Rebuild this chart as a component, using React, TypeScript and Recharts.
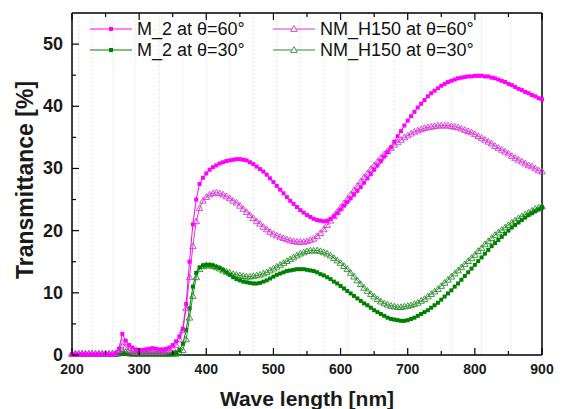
import { LineChart, Line, XAxis, YAxis, CartesianGrid } from 'recharts';

// wavelength grid [nm]
const WAVE = [
  200, 205, 210, 215, 220, 225, 230, 235, 240, 245,
  250, 255, 260, 265, 270, 275, 280, 285, 290, 295,
  300, 305, 310, 315, 320, 325, 330, 335, 340, 345,
  350, 355, 360, 365, 370, 375, 380, 385, 390, 395,
  400, 405, 410, 415, 420, 425, 430, 435, 440, 445,
  450, 455, 460, 465, 470, 475, 480, 485, 490, 495,
  500, 505, 510, 515, 520, 525, 530, 535, 540, 545,
  550, 555, 560, 565, 570, 575, 580, 585, 590, 595,
  600, 605, 610, 615, 620, 625, 630, 635, 640, 645,
  650, 655, 660, 665, 670, 675, 680, 685, 690, 695,
  700, 705, 710, 715, 720, 725, 730, 735, 740, 745,
  750, 755, 760, 765, 770, 775, 780, 785, 790, 795,
  800, 805, 810, 815, 820, 825, 830, 835, 840, 845,
  850, 855, 860, 865, 870, 875, 880, 885, 890, 895,
  900,
];

// M_2 at 60 deg
const M2_60 = [
  0.1, 0.1, 0.1, 0.1, 0.1, 0.1, 0.1, 0.1, 0.1, 0.1,
  0.1, 0.1, 0.1, 0.3, 1.0, 3.4, 2.3, 1.6, 1.2, 0.9,
  0.8, 0.8, 0.9, 1.0, 1.1, 1.0, 0.9, 0.9, 1.0, 1.2,
  1.6, 2.2, 3.0, 4.2, 8.2, 15.0, 21.0, 25.0, 27.5, 28.5,
  29.2, 29.8, 30.2, 30.5, 30.8, 31.0, 31.2, 31.3, 31.4, 31.5,
  31.5, 31.4, 31.3, 31.0, 30.7, 30.3, 29.9, 29.5, 29.0, 28.4,
  27.8, 27.2, 26.6, 26.0, 25.4, 24.8, 24.3, 23.8, 23.3, 22.9,
  22.5, 22.2, 21.9, 21.7, 21.6, 21.5, 21.6, 21.9, 22.3, 22.8,
  23.4, 24.0, 24.6, 25.2, 25.8, 26.4, 27.0, 27.7, 28.4, 29.1,
  29.8, 30.5, 31.2, 31.9, 32.6, 33.4, 34.3, 35.2, 36.0, 36.9,
  37.7, 38.4, 39.1, 39.8, 40.4, 41.0, 41.6, 42.1, 42.5, 42.9,
  43.3, 43.6, 43.9, 44.1, 44.3, 44.5, 44.6, 44.7, 44.8, 44.8,
  44.9, 44.9, 44.9, 44.8, 44.8, 44.6, 44.5, 44.3, 44.1, 43.9,
  43.6, 43.4, 43.1, 42.8, 42.6, 42.3, 42.1, 41.8, 41.6, 41.3,
  41.1,
];

// NM_H150 at 60 deg
const NM_60 = [
  0.2, 0.2, 0.2, 0.2, 0.2, 0.2, 0.2, 0.2, 0.2, 0.2,
  0.2, 0.2, 0.2, 0.3, 0.8, 2.0, 1.3, 0.8, 0.6, 0.5,
  0.5, 0.5, 0.5, 0.5, 0.5, 0.5, 0.5, 0.5, 0.6, 0.8,
  1.1, 1.6, 2.5, 4.0, 7.5, 12.5, 17.5, 21.5, 23.6, 24.8,
  25.4, 25.8, 26.0, 26.1, 26.0, 25.8, 25.5, 25.2, 24.8, 24.5,
  24.0, 23.5, 23.0, 22.5, 22.0, 21.5, 21.1, 20.6, 20.2, 19.8,
  19.5, 19.2, 19.0, 18.8, 18.6, 18.4, 18.3, 18.2, 18.2, 18.2,
  18.3, 18.5, 18.7, 19.1, 19.6, 20.2, 20.9, 21.6, 22.3, 23.0,
  23.7, 24.4, 25.1, 25.8, 26.5, 27.2, 27.9, 28.6, 29.2, 29.9,
  30.5, 31.1, 31.7, 32.3, 32.8, 33.3, 33.8, 34.2, 34.6, 35.0,
  35.3, 35.6, 35.9, 36.1, 36.3, 36.5, 36.6, 36.7, 36.8, 36.9,
  36.9, 36.9, 36.9, 36.8, 36.7, 36.6, 36.4, 36.2, 36.0, 35.8,
  35.5, 35.2, 34.9, 34.6, 34.3, 34.0, 33.6, 33.3, 33.0, 32.7,
  32.4, 32.0, 31.7, 31.4, 31.1, 30.8, 30.5, 30.3, 30.0, 29.7,
  29.5,
];

// M_2 at 30 deg
const M2_30 = [
  0.0, 0.0, 0.0, 0.0, 0.0, 0.0, 0.0, 0.0, 0.0, 0.0,
  0.0, 0.0, 0.0, 0.0, 0.1, 0.3, 0.2, 0.1, 0.1, 0.1,
  0.1, 0.1, 0.1, 0.1, 0.1, 0.1, 0.1, 0.1, 0.1, 0.1,
  0.2, 0.4, 0.8, 1.8, 4.0, 7.5, 11.0, 13.2, 14.1, 14.4,
  14.5, 14.5, 14.4, 14.2, 14.0, 13.7, 13.3, 12.9, 12.5, 12.2,
  12.0, 11.8, 11.7, 11.6, 11.5, 11.5, 11.6, 11.8, 12.0, 12.3,
  12.6, 12.9, 13.1, 13.3, 13.5, 13.6, 13.7, 13.8, 13.8, 13.8,
  13.7, 13.6, 13.5, 13.3, 13.0, 12.8, 12.5, 12.2, 11.8, 11.5,
  11.1, 10.7, 10.3, 9.9, 9.5, 9.1, 8.7, 8.3, 8.0, 7.6,
  7.2, 6.9, 6.6, 6.3, 6.0, 5.8, 5.7, 5.6, 5.5, 5.5,
  5.6, 5.8, 6.0, 6.3, 6.6, 6.9, 7.2, 7.6, 8.0, 8.4,
  8.9, 9.4, 9.9, 10.4, 11.0, 11.5, 12.1, 12.7, 13.3, 13.9,
  14.5, 15.1, 15.7, 16.3, 16.9, 17.5, 18.0, 18.5, 19.0, 19.5,
  20.0, 20.5, 20.9, 21.3, 21.7, 22.1, 22.5, 22.8, 23.1, 23.4,
  23.7,
];

// NM_H150 at 30 deg
const NM_30 = [
  0.2, 0.2, 0.2, 0.2, 0.2, 0.2, 0.2, 0.2, 0.2, 0.2,
  0.2, 0.2, 0.2, 0.2, 0.3, 0.8, 0.5, 0.3, 0.2, 0.2,
  0.2, 0.2, 0.2, 0.2, 0.2, 0.2, 0.2, 0.2, 0.2, 0.2,
  0.2, 0.2, 0.3, 0.8, 2.5, 6.0, 9.5, 12.5, 13.8, 14.3,
  14.4, 14.4, 14.3, 14.1, 13.9, 13.6, 13.4, 13.2, 13.0, 12.9,
  12.8, 12.7, 12.6, 12.6, 12.7, 12.8, 12.9, 13.1, 13.3, 13.6,
  13.9, 14.2, 14.5, 14.8, 15.1, 15.4, 15.7, 16.0, 16.3, 16.5,
  16.7, 16.8, 16.8, 16.8, 16.7, 16.5, 16.3, 16.0, 15.6, 15.2,
  14.8, 14.3, 13.8, 13.2, 12.6, 12.0, 11.4, 10.8, 10.3, 9.8,
  9.4, 9.0, 8.6, 8.3, 8.1, 7.9, 7.8, 7.7, 7.7, 7.8,
  7.9, 8.0, 8.2, 8.4, 8.7, 9.0, 9.4, 9.8, 10.2, 10.6,
  11.1, 11.6, 12.1, 12.6, 13.1, 13.6, 14.1, 14.6, 15.1, 15.6,
  16.1, 16.7, 17.2, 17.8, 18.3, 18.8, 19.3, 19.7, 20.1, 20.5,
  20.9, 21.3, 21.6, 22.0, 22.3, 22.6, 22.9, 23.2, 23.5, 23.7,
  23.9,
];

const X_TICKS = [200, 250, 300, 350, 400, 450, 500, 550, 600, 650, 700, 750, 800, 850, 900];
const Y_TICKS = [0, 5, 10, 15, 20, 25, 30, 35, 40, 45, 50, 55];

const data = WAVE.map((wl, i) => ({
  wl,
  m60: M2_60[i],
  n60: NM_60[i],
  m30: M2_30[i],
  n30: NM_30[i],
}));

const FONT = '"Liberation Sans", Arial, sans-serif';
const MAGENTA = '#ff00ff';
const MAGENTA_OPEN = '#d936d9';
const GREEN = '#008000';
const GREEN_OPEN = '#2f8f2f';

const square = (color: string) => (p: any) => {
  if (p.cx == null || p.cy == null) return <g key={p.index} />;
  return <rect key={p.index} x={p.cx - 2} y={p.cy - 2} width={4} height={4} fill={color} />;
};

const triangle = (color: string) => (p: any) => {
  if (p.cx == null || p.cy == null) return <g key={p.index} />;
  const { cx, cy } = p;
  return (
    <path
      key={p.index}
      d={`M${cx},${cy - 3.3} L${cx + 3.3},${cy + 2.4} L${cx - 3.3},${cy + 2.4} Z`}
      fill="none"
      stroke={color}
      strokeWidth={0.9}
    />
  );
};

const BottomTick = ({ x, y, payload }: any) => {
  const major = payload.value % 100 === 0;
  return (
    <g>
      <line x1={x} x2={x} y1={y} y2={y - (major ? 7 : 4)} stroke="#000" strokeWidth={1.2} />
      {major && (
        <text x={x} y={y + 19} textAnchor="middle" fontSize={14} fontWeight="bold" fill="#1a1a1a" fontFamily={FONT}>
          {payload.value}
        </text>
      )}
    </g>
  );
};

const TopTick = ({ x, y, payload }: any) => {
  const major = payload.value % 100 === 0;
  return <line x1={x} x2={x} y1={y} y2={y + (major ? 7 : 4)} stroke="#000" strokeWidth={1.2} />;
};

const LeftTick = ({ x, y, payload }: any) => {
  const major = payload.value % 10 === 0;
  if (payload.value > 50) return <g />;
  return (
    <g>
      <line x1={x} x2={x + (major ? 7 : 4)} y1={y} y2={y} stroke="#000" strokeWidth={1.2} />
      {major && (
        <text x={x - 9} y={y + 6} textAnchor="end" fontSize={18} fontWeight="bold" fill="#1a1a1a" fontFamily={FONT}>
          {payload.value}
        </text>
      )}
    </g>
  );
};

const RightTick = ({ x, y, payload }: any) => {
  const major = payload.value % 10 === 0;
  if (payload.value > 50) return <g />;
  return <line x1={x} x2={x - (major ? 7 : 4)} y1={y} y2={y} stroke="#000" strokeWidth={1.2} />;
};

const legendItems = [
  { label: 'M_2 at θ=60°', color: MAGENTA, kind: 'square', left: 90, top: 20 },
  { label: 'NM_H150 at θ=60°', color: MAGENTA_OPEN, kind: 'triangle', left: 273, top: 20 },
  { label: 'M_2 at θ=30°', color: GREEN, kind: 'square', left: 90, top: 41 },
  { label: 'NM_H150 at θ=30°', color: GREEN_OPEN, kind: 'triangle', left: 273, top: 41 },
];

function LegendBox() {
  return (
    <>
      {legendItems.map((it) => (
        <div
          key={it.label}
          style={{ position: 'absolute', left: it.left, top: it.top, display: 'flex', alignItems: 'center', height: 18 }}
        >
          <svg width={44} height={12} style={{ display: 'block' }}>
            <line x1={0} x2={42} y1={6} y2={6} stroke={it.color} strokeWidth={1} />
            {it.kind === 'square' ? (
              <rect x={19} y={4} width={4} height={4} fill={it.color} />
            ) : (
              <path d="M21,2.7 L24.3,8.4 L17.7,8.4 Z" fill="#fff" stroke={it.color} strokeWidth={0.9} />
            )}
          </svg>
          <span style={{ fontFamily: FONT, fontSize: 18, color: '#111', marginLeft: 3, whiteSpace: 'nowrap' }}>
            {it.label}
          </span>
        </div>
      ))}
    </>
  );
}

export default function App() {
  return (
    <div style={{ position: 'absolute', left: 0, top: 0, width: 562, height: 409, background: '#fff' }}>
      <LineChart width={562} height={409} data={data} margin={{ top: 12, right: 19, bottom: 0, left: 0 }}>
        <CartesianGrid stroke="#cfcfcf" strokeDasharray="1 3" />
        <XAxis
          xAxisId="b"
          dataKey="wl"
          type="number"
          domain={[200, 900]}
          ticks={X_TICKS}
          interval={0}
          height={54}
          tickSize={0}
          tickMargin={0}
          tick={<BottomTick />}
          axisLine={{ stroke: '#000', strokeWidth: 1.5 }}
        />
        <XAxis
          xAxisId="t"
          orientation="top"
          dataKey="wl"
          type="number"
          domain={[200, 900]}
          ticks={X_TICKS}
          interval={0}
          height={1}
          tickSize={0}
          tickMargin={0}
          tick={<TopTick />}
          axisLine={{ stroke: '#000', strokeWidth: 1.5 }}
        />
        <YAxis
          yAxisId="l"
          type="number"
          domain={[0, 55]}
          ticks={Y_TICKS}
          interval={0}
          width={72}
          tickSize={0}
          tickMargin={0}
          tick={<LeftTick />}
          axisLine={{ stroke: '#000', strokeWidth: 1.5 }}
        />
        <YAxis
          yAxisId="r"
          orientation="right"
          type="number"
          domain={[0, 55]}
          ticks={Y_TICKS}
          interval={0}
          width={1}
          tickSize={0}
          tickMargin={0}
          tick={<RightTick />}
          axisLine={{ stroke: '#000', strokeWidth: 1.5 }}
        />
        <Line xAxisId="b" yAxisId="l" dataKey="n30" stroke={GREEN_OPEN} strokeWidth={1} dot={triangle(GREEN_OPEN)} isAnimationActive={false} />
        <Line xAxisId="b" yAxisId="l" dataKey="m30" stroke={GREEN} strokeWidth={1} dot={square(GREEN)} isAnimationActive={false} />
        <Line xAxisId="b" yAxisId="l" dataKey="n60" stroke={MAGENTA_OPEN} strokeWidth={1} dot={triangle(MAGENTA_OPEN)} isAnimationActive={false} />
        <Line xAxisId="b" yAxisId="l" dataKey="m60" stroke={MAGENTA} strokeWidth={1} dot={square(MAGENTA)} isAnimationActive={false} />
      </LineChart>
      <LegendBox />
      <div
        style={{
          position: 'absolute',
          left: 25,
          top: 180,
          transform: 'translate(-50%, -50%) rotate(-90deg)',
          fontFamily: FONT,
          fontWeight: 'bold',
          fontSize: 23,
          color: '#1a1a1a',
          whiteSpace: 'nowrap',
        }}
      >
        Transmittance [%]
      </div>
      <div
        style={{
          position: 'absolute',
          left: 307,
          top: 399,
          transform: 'translate(-50%, -50%)',
          fontFamily: FONT,
          fontWeight: 'bold',
          fontSize: 21,
          color: '#1a1a1a',
          whiteSpace: 'nowrap',
        }}
      >
        Wave length [nm]
      </div>
    </div>
  );
}
